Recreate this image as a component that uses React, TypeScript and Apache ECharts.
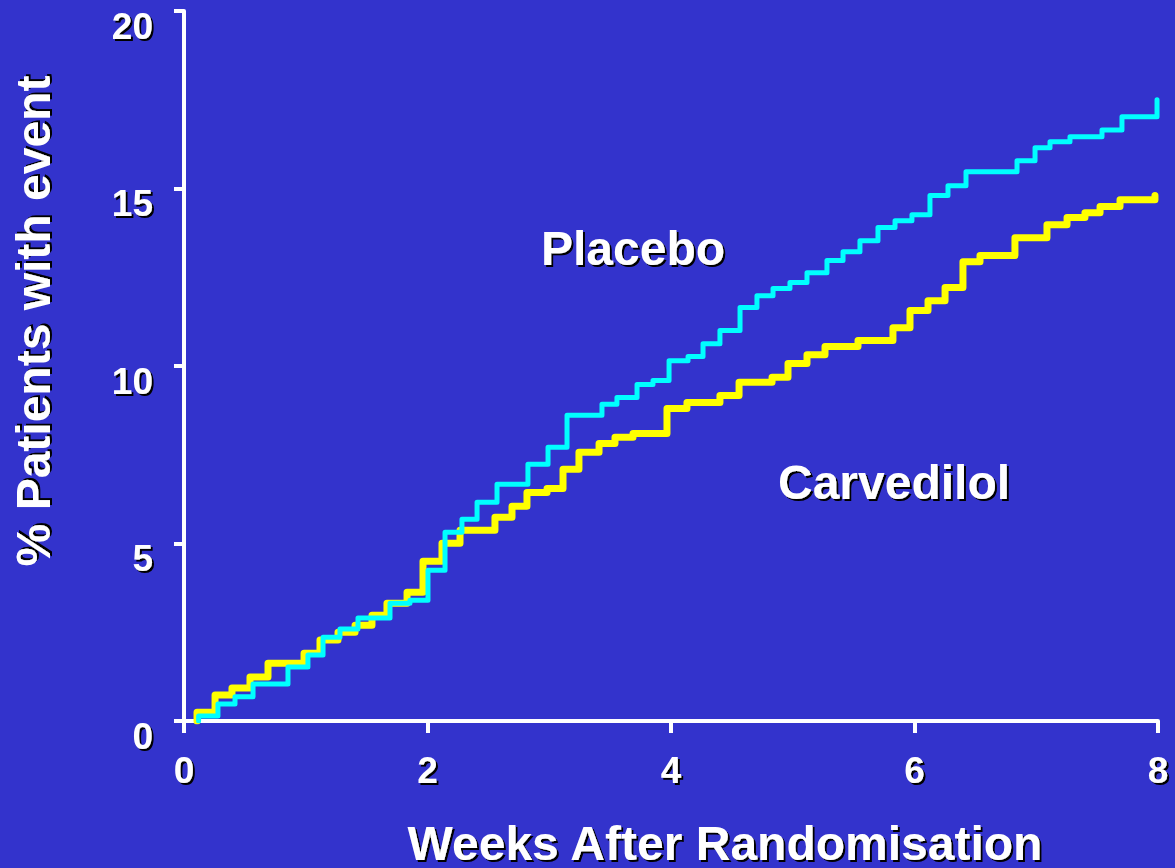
import React, { useEffect, useRef } from "react";
import * as echarts from "echarts";

// Placebo (cyan) Kaplan-Meier style steps: week at which value starts, % with event
const placeboWeeks = [0.12, 0.12, 0.279, 0.419, 0.567, 0.854, 1.018, 1.142, 1.281, 1.429, 1.692, 1.856, 2.004, 2.144, 2.283, 2.407, 2.571, 2.825, 2.99, 3.146, 3.433, 3.556, 3.721, 3.852, 3.984, 4.14, 4.263, 4.402, 4.567, 4.706, 4.838, 4.977, 5.117, 5.281, 5.413, 5.552, 5.7, 5.84, 5.979, 6.127, 6.275, 6.423, 6.842, 6.99, 7.113, 7.277, 7.54, 7.704, 7.992];
const placeboPct = [0.0, 0.14, 0.48, 0.68, 1.04, 1.52, 1.86, 2.36, 2.59, 2.9, 3.32, 3.4, 4.25, 5.32, 5.68, 6.16, 6.67, 7.23, 7.71, 8.61, 8.92, 9.11, 9.48, 9.59, 10.15, 10.27, 10.63, 11.0, 11.65, 11.98, 12.18, 12.35, 12.63, 12.97, 13.22, 13.53, 13.9, 14.09, 14.26, 14.8, 15.08, 15.47, 15.78, 16.15, 16.32, 16.46, 16.65, 17.02, 17.5];

// Carvedilol (yellow)
const carvedilolWeeks = [0.107, 0.107, 0.255, 0.394, 0.542, 0.69, 0.986, 1.117, 1.265, 1.405, 1.544, 1.667, 1.832, 1.963, 2.119, 2.267, 2.554, 2.694, 2.817, 2.982, 3.113, 3.244, 3.409, 3.54, 3.688, 3.967, 4.131, 4.402, 4.559, 4.83, 4.961, 5.117, 5.265, 5.536, 5.823, 5.963, 6.111, 6.251, 6.398, 6.538, 6.825, 7.088, 7.253, 7.4, 7.524, 7.688, 7.975];
const carvedilolPct = [0.0, 0.25, 0.73, 0.93, 1.24, 1.63, 1.91, 2.28, 2.5, 2.7, 2.98, 3.32, 3.63, 4.5, 5.01, 5.37, 5.74, 6.05, 6.44, 6.55, 7.09, 7.57, 7.82, 7.99, 8.1, 8.8, 8.97, 9.17, 9.54, 9.68, 10.07, 10.32, 10.55, 10.72, 11.08, 11.56, 11.84, 12.21, 12.94, 13.11, 13.61, 13.98, 14.18, 14.32, 14.49, 14.68, 14.8];

const xTicks = [0, 2, 4, 6, 8];
const yTicks = [0, 5, 10, 15, 20];
const xTitle = "Weeks After Randomisation";
const yTitle = "% Patients with event";
const placeboName = "Placebo";
const carvedilolName = "Carvedilol";

const FONT = '"Liberation Sans", Arial, Helvetica, sans-serif';
const BG = "#3333cc";

export default function App() {
  const ref = useRef<HTMLDivElement>(null);
  useEffect(() => {
    if (!ref.current) return;
    const chart = echarts.init(ref.current, undefined, { renderer: "svg" });
    const placeboData = placeboWeeks.map((w, i) => [w, placeboPct[i]]);
    const carvedilolData = carvedilolWeeks.map((w, i) => [w, carvedilolPct[i]]);
    const shadow = {
      textShadowColor: "#000",
      textShadowBlur: 1,
      textShadowOffsetX: 2,
      textShadowOffsetY: 2,
    };
    chart.setOption({
      animation: false,
      backgroundColor: BG,
      grid: {
        left: 184,
        right: 17,
        top: 11,
        bottom: 147,
        containLabel: false,
        outerBoundsMode: "none",
      },
      xAxis: {
        type: "value",
        min: xTicks[0],
        max: xTicks[xTicks.length - 1],
        interval: 2,
        axisLine: { show: true, lineStyle: { color: "#fff", width: 4 } },
        axisTick: { show: true, length: 12, lineStyle: { color: "#fff", width: 4 } },
        splitLine: { show: false },
        axisLabel: {
          color: "#fff",
          fontFamily: FONT,
          fontWeight: "bold",
          fontSize: 37,
          margin: 31,
          ...shadow,
        },
      },
      yAxis: {
        type: "value",
        min: yTicks[0],
        max: yTicks[yTicks.length - 1],
        interval: 5,
        axisLine: { show: true, lineStyle: { color: "#fff", width: 4 } },
        axisTick: { show: true, length: 10, lineStyle: { color: "#fff", width: 4 } },
        splitLine: { show: false },
        axisLabel: {
          color: "#fff",
          fontFamily: FONT,
          fontWeight: "bold",
          fontSize: 37,
          margin: 31,
          verticalAlign: "top",
          lineHeight: 30,
          ...shadow,
        },
      },
      series: [
        {
          name: carvedilolName,
          type: "line",
          step: "end",
          showSymbol: false,
          data: carvedilolData,
          lineStyle: { color: "#ffff00", width: 7, join: "round", cap: "round" },
          z: 2,
        },
        {
          name: placeboName,
          type: "line",
          step: "end",
          showSymbol: false,
          data: placeboData,
          lineStyle: { color: "#00ffff", width: 5, join: "round", cap: "round" },
          z: 3,
        },
      ],
      graphic: [
        {
          type: "text",
          x: 633,
          y: 248,
          style: { text: placeboName, font: `bold 48px ${FONT}`, fill: "#fff", align: "center", verticalAlign: "middle", ...shadow },
        },
        {
          type: "text",
          x: 894,
          y: 482,
          style: { text: carvedilolName, font: `bold 48px ${FONT}`, fill: "#fff", align: "center", verticalAlign: "middle", ...shadow },
        },
        {
          type: "text",
          x: 725,
          y: 843,
          style: { text: xTitle, font: `bold 48px ${FONT}`, fill: "#fff", align: "center", verticalAlign: "middle", ...shadow },
        },
        {
          type: "text",
          x: 33,
          y: 321,
          rotation: Math.PI / 2,
          style: { text: yTitle, font: `bold 48px ${FONT}`, fill: "#fff", align: "center", verticalAlign: "middle", ...shadow },
        },
      ],
    });
    return () => chart.dispose();
  }, []);
  return (
    <div
      ref={ref}
      style={{ position: "fixed", left: 0, top: 0, width: 1175, height: 868, background: BG }}
    />
  );
}
